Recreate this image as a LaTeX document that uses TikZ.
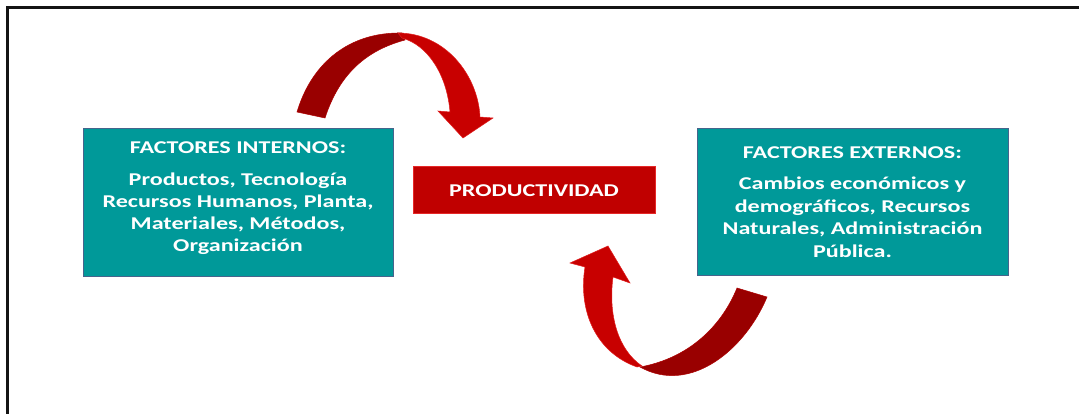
\documentclass[tikz,border=0pt]{standalone}
\usepackage{fontspec}
\setmainfont{Carlito}
\definecolor{tealfill}{RGB}{0,153,153}
\definecolor{tealedge}{RGB}{70,100,140}
\definecolor{prodfill}{RGB}{192,0,0}
\definecolor{prodedge}{RGB}{230,40,40}
\definecolor{arrdark}{RGB}{153,0,0}
\definecolor{arrbright}{RGB}{200,0,0}
\definecolor{arredge}{RGB}{225,30,30}
\newcommand\widetext[1]{\scalebox{1.34}[1]{#1}}
\begin{document}
\begin{tikzpicture}[x=1pt,y=-1pt,
  factorbox/.style={draw=tealedge, line width=0.8pt, fill=tealfill, inner sep=0pt},
  prodbox/.style={draw=prodedge, line width=0.8pt, fill=prodfill, inner sep=0pt},
  txt/.style={anchor=base, text=white, inner sep=0pt, font=\bfseries\fontsize{18}{22}\selectfont},
  darkpart/.style={fill=arrdark, draw=arrdark!80!red, line width=0.5pt},
  brightpart/.style={fill=arrbright, draw=arredge, line width=0.5pt}]
\useasboundingbox (0,0) rectangle (1079,414);
\fill[white] (0,0) rectangle (1079,414);
\draw[line width=3pt, black!92] (7.5,414) -- (7.5,7.5) -- (1079,7.5);

% boxes
\node[factorbox, minimum width=310pt, minimum height=148pt] (intbox) at (238,202) {};
\node[factorbox, minimum width=311pt, minimum height=147pt] (extbox) at (852.5,201.5) {};
\node[prodbox, minimum width=242pt, minimum height=47pt] (prodbox) at (534,189.5) {};

% texts
\node[txt] (it0) at (238,153.3) {\widetext{FACTORES INTERNOS:}};
\node[txt] (it1) at (238,185.7) {\widetext{Productos, Tecnología}};
\node[txt] (it2) at (238,207.5) {\widetext{Recursos Humanos, Planta,}};
\node[txt] (it3) at (238,229.5) {\widetext{Materiales, Métodos,}};
\node[txt] (it4) at (238,251.7) {\widetext{Organización}};

\node[txt] (et0) at (852.5,158.3) {\widetext{FACTORES EXTERNOS:}};
\node[txt] (et1) at (852.5,190) {\widetext{Cambios económicos y}};
\node[txt] (et2) at (852.5,212.3) {\widetext{demográficos, Recursos}};
\node[txt] (et3) at (852.5,235) {\widetext{Naturales, Administración}};
\node[txt] (et4) at (852.5,257.7) {\widetext{Pública.}};

\node[txt] (pt) at (534,196.7) {\widetext{PRODUCTIVIDAD}};

% top curved arrow
\path[darkpart] (297,112) .. controls (312,62) and (350,32) .. (402,33)
  -- (405,40) .. controls (368,50) and (340,72) .. (325,118) -- cycle;
\path[brightpart] (398,33) .. controls (445,33) and (478,75) .. (480,117)
  -- (493,118) -- (463,138) -- (438,111) -- (450,112)
  .. controls (447,75) and (428,45) .. (402,38) -- cycle;

% bottom curved arrow
\path[darkpart] (640,367) .. controls (690,358) and (722,325) .. (737,288)
  -- (767,297) .. controls (745,350) and (690,395) .. (640,367) -- cycle;
\path[brightpart] (637,367) .. controls (595,352) and (578,310) .. (585,267)
  -- (570,263) -- (608,246) -- (630,283) -- (613,277)
  .. controls (608,315) and (618,350) .. (642,366) -- cycle;
\end{tikzpicture}
\end{document}
